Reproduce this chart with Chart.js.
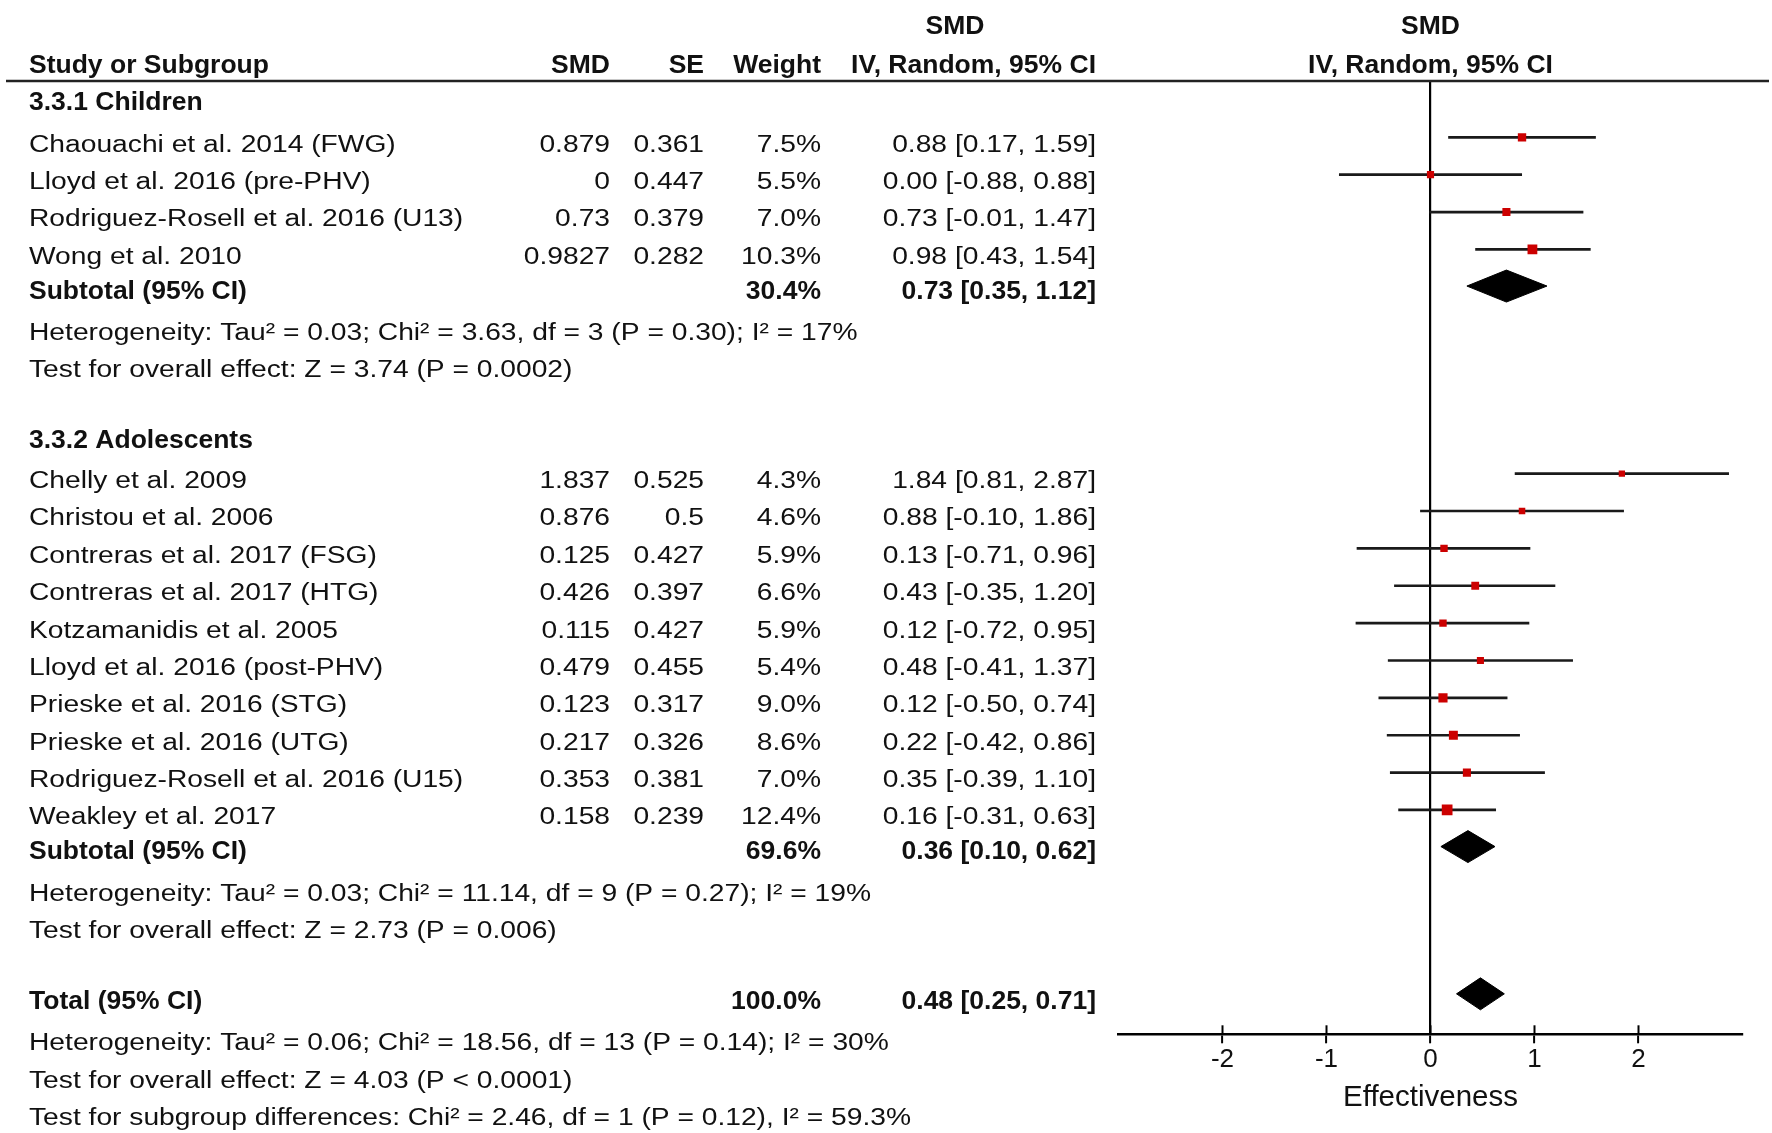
<!DOCTYPE html>
<html>
<head>
<meta charset="utf-8">
<script src="https://cdn.jsdelivr.net/npm/chart.js@4.4.1/dist/chart.umd.min.js"></script>
<style>
  html, body { margin: 0; padding: 0; background: #fff; overflow: hidden; }
  #wrap { position: relative; width: 1772px; height: 1133px; }
</style>
</head>
<body>
<div id="wrap"><canvas id="c"></canvas></div>
<script>
// ---------------- DATA ----------------
const studyNames = [
  'Chaouachi et al. 2014 (FWG)', 'Lloyd et al. 2016 (pre-PHV)', 'Rodriguez-Rosell et al. 2016 (U13)', 'Wong et al. 2010',
  'Chelly et al. 2009', 'Christou et al. 2006', 'Contreras et al. 2017 (FSG)', 'Contreras et al. 2017 (HTG)',
  'Kotzamanidis et al. 2005', 'Lloyd et al. 2016 (post-PHV)', 'Prieske et al. 2016 (STG)', 'Prieske et al. 2016 (UTG)',
  'Rodriguez-Rosell et al. 2016 (U15)', 'Weakley et al. 2017'
];
const smdValues = ['0.879', '0', '0.73', '0.9827', '1.837', '0.876', '0.125', '0.426', '0.115', '0.479', '0.123', '0.217', '0.353', '0.158'];
const seValues  = ['0.361', '0.447', '0.379', '0.282', '0.525', '0.5', '0.427', '0.397', '0.427', '0.455', '0.317', '0.326', '0.381', '0.239'];
const weights   = [7.5, 5.5, 7.0, 10.3, 4.3, 4.6, 5.9, 6.6, 5.9, 5.4, 9.0, 8.6, 7.0, 12.4];
const ciEst     = [0.88, 0.00, 0.73, 0.98, 1.84, 0.88, 0.13, 0.43, 0.12, 0.48, 0.12, 0.22, 0.35, 0.16];
const ciLow     = [0.17, -0.88, -0.01, 0.43, 0.81, -0.10, -0.71, -0.35, -0.72, -0.41, -0.50, -0.42, -0.39, -0.31];
const ciHigh    = [1.59, 0.88, 1.47, 1.54, 2.87, 1.86, 0.96, 1.20, 0.95, 1.37, 0.74, 0.86, 1.10, 0.63];
const studyRows = [0, 1, 2, 3, 9, 10, 11, 12, 13, 14, 15, 16, 17, 18];

const summaryLabels  = ['Subtotal (95% CI)', 'Subtotal (95% CI)', 'Total (95% CI)'];
const summaryWeights = ['30.4%', '69.6%', '100.0%'];
const summaryEst     = [0.73, 0.36, 0.48];
const summaryLow     = [0.35, 0.10, 0.25];
const summaryHigh    = [1.12, 0.62, 0.71];
const summaryRows    = [3.9, 18.9, 22.91];
const diamondRows    = [3.82, 18.82, 22.76];

const groupLabels = ['3.3.1 Children', '3.3.2 Adolescents'];
const groupRows   = [-1.14, 7.9];

const noteLines = [
  'Heterogeneity: Tau\u00B2 = 0.03; Chi\u00B2 = 3.63, df = 3 (P = 0.30); I\u00B2 = 17%',
  'Test for overall effect: Z = 3.74 (P = 0.0002)',
  'Heterogeneity: Tau\u00B2 = 0.03; Chi\u00B2 = 11.14, df = 9 (P = 0.27); I\u00B2 = 19%',
  'Test for overall effect: Z = 2.73 (P = 0.006)',
  'Heterogeneity: Tau\u00B2 = 0.06; Chi\u00B2 = 18.56, df = 13 (P = 0.14); I\u00B2 = 30%',
  'Test for overall effect: Z = 4.03 (P < 0.0001)',
  'Test for subgroup differences: Chi\u00B2 = 2.46, df = 1 (P = 0.12), I\u00B2 = 59.3%'
];
const noteRows = [5.03, 6.03, 20.05, 21.05, 24.03, 25.05, 26.05];

const tickValues = [-2, -1, 0, 1, 2];
const xMin = -3, xMax = 3;
const axisTitle = 'Effectiveness';
const headerRows = [-3.17, -2.14];
const rowMin = -1.667, rowMax = 23.843;

// ---------------- STYLE ----------------
const FONT = '"Liberation Sans", Arial, Helvetica, sans-serif';
const REG_SIZE = 23.5, REG_STRETCH = 1.2, BOLD_SIZE = 26.5;
const TXT = '#111111';
const RED = '#cc0000';
const LINE = '#1a1a1a';
const markShift = -0.16;      // marks sit slightly above the text centre
const diamondHalf = 0.428;    // diamond half-height in row units
const boxSide = w => 3.05 * Math.sqrt(w);

// ---------------- DATASETS ----------------
const ciDatasets = ciLow.map((lo, i) => ({
  type: 'line',
  data: [{ x: lo, y: studyRows[i] + markShift }, { x: ciHigh[i], y: studyRows[i] + markShift }],
  borderColor: LINE, borderWidth: 2.7, pointRadius: 0, fill: false, order: 2
}));

const boxDataset = {
  type: 'line',
  data: ciEst.map((e, i) => ({ x: e, y: studyRows[i] + markShift })),
  showLine: false,
  pointStyle: 'rect',
  pointRadius: ctx => boxSide(weights[ctx.dataIndex]) / Math.SQRT2,
  pointBackgroundColor: RED, pointBorderColor: RED, pointBorderWidth: 0,
  order: 0
};

const diamondDatasets = summaryEst.map((e, i) => ({
  type: 'line',
  data: [
    { x: summaryLow[i], y: diamondRows[i] },
    { x: e, y: diamondRows[i] - diamondHalf },
    { x: summaryHigh[i], y: diamondRows[i] },
    { x: e, y: diamondRows[i] + diamondHalf },
    { x: summaryLow[i], y: diamondRows[i] }
  ],
  borderColor: '#000', backgroundColor: '#000', borderWidth: 1,
  pointRadius: 0, fill: 'shape', tension: 0, order: 3
}));

// ---------------- TEXT PLUGIN ----------------
function drawText(ctx, str, x, y, align, bold) {
  const size = bold ? BOLD_SIZE : REG_SIZE;
  ctx.save();
  ctx.font = (bold ? 'bold ' : '') + size + 'px ' + FONT;
  ctx.fillStyle = TXT;
  ctx.textAlign = align;
  ctx.textBaseline = 'alphabetic';
  ctx.translate(x, y + size * 0.716 / 2);
  ctx.scale(bold ? 1 : REG_STRETCH, 1);
  ctx.fillText(str, 0, 0);
  ctx.restore();
}

const tablePlugin = {
  id: 'forestTable',
  afterDraw(chart) {
    const ctx = chart.ctx;
    const ys = chart.scales.y, xs = chart.scales.x;
    const Y = r => ys.getPixelForValue(r);
    const colName = 29, colSmd = 610, colSe = 704, colW = 821, colCi = 1096, colSmdHead = 955;
    const plotMid = (chart.chartArea.left + chart.chartArea.right) / 2;

    // header
    drawText(ctx, 'SMD', colSmdHead, Y(headerRows[0]), 'center', true);
    drawText(ctx, 'SMD', plotMid, Y(headerRows[0]), 'center', true);
    drawText(ctx, 'Study or Subgroup', colName, Y(headerRows[1]), 'left', true);
    drawText(ctx, 'SMD', colSmd, Y(headerRows[1]), 'right', true);
    drawText(ctx, 'SE', colSe, Y(headerRows[1]), 'right', true);
    drawText(ctx, 'Weight', colW, Y(headerRows[1]), 'right', true);
    drawText(ctx, 'IV, Random, 95% CI', colCi, Y(headerRows[1]), 'right', true);
    drawText(ctx, 'IV, Random, 95% CI', plotMid, Y(headerRows[1]), 'center', true);

    // header rule
    ctx.save();
    ctx.strokeStyle = '#222';
    ctx.lineWidth = 2.6;
    ctx.beginPath();
    ctx.moveTo(6, chart.chartArea.top);
    ctx.lineTo(1769, chart.chartArea.top);
    ctx.stroke();
    ctx.restore();

    groupLabels.forEach((g, i) => drawText(ctx, g, colName, Y(groupRows[i]), 'left', true));

    studyNames.forEach((n, i) => {
      const y = Y(studyRows[i]);
      drawText(ctx, n, colName, y, 'left', false);
      drawText(ctx, smdValues[i], colSmd, y, 'right', false);
      drawText(ctx, seValues[i], colSe, y, 'right', false);
      drawText(ctx, weights[i].toFixed(1) + '%', colW, y, 'right', false);
      drawText(ctx, ciEst[i].toFixed(2) + ' [' + ciLow[i].toFixed(2) + ', ' + ciHigh[i].toFixed(2) + ']', colCi, y, 'right', false);
    });

    summaryLabels.forEach((s, i) => {
      const y = Y(summaryRows[i]);
      drawText(ctx, s, colName, y, 'left', true);
      drawText(ctx, summaryWeights[i], colW, y, 'right', true);
      drawText(ctx, summaryEst[i].toFixed(2) + ' [' + summaryLow[i].toFixed(2) + ', ' + summaryHigh[i].toFixed(2) + ']', colCi, y, 'right', true);
    });

    noteLines.forEach((t, i) => drawText(ctx, t, colName, Y(noteRows[i]), 'left', false));

    // upper halves of the axis tick marks
    ctx.save();
    ctx.strokeStyle = '#000';
    ctx.lineWidth = 2;
    tickValues.forEach(v => {
      const px = xs.getPixelForValue(v);
      ctx.beginPath();
      ctx.moveTo(px, xs.top);
      ctx.lineTo(px, xs.top - 9);
      ctx.stroke();
    });
    ctx.restore();
  }
};

// ---------------- CHART ----------------
new Chart(document.getElementById('c'), {
  type: 'line',
  data: { datasets: [boxDataset, ...ciDatasets, ...diamondDatasets] },
  options: {
    responsive: true,
    maintainAspectRatio: false,
    animation: false,
    events: [],
    layout: { padding: { left: 1118.5, right: 29.5, top: 81, bottom: 0 } },
    plugins: { legend: { display: false }, tooltip: { enabled: false } },
    scales: {
      x: {
        type: 'linear',
        min: xMin, max: xMax,
        afterBuildTicks: s => { s.ticks = tickValues.map(v => ({ value: v })); },
        afterFit: s => { s.height = 98.7; },
        grid: {
          drawOnChartArea: true,
          color: c => (c.tick && c.tick.value === 0) ? '#000' : 'rgba(0,0,0,0)',
          lineWidth: 2.2,
          tickColor: '#000',
          tickWidth: 2,
          tickLength: 9
        },
        border: { display: true, color: '#000', width: 2.5 },
        ticks: {
          color: TXT,
          padding: 1,
          font: { family: FONT, size: 26, lineHeight: 1.2 },
          callback: v => String(v)
        },
        title: {
          display: true,
          text: axisTitle,
          color: TXT,
          font: { family: FONT, size: 29.5, lineHeight: 1.2 },
          padding: { top: 0, bottom: 17 }
        }
      },
      y: {
        type: 'linear',
        display: false,
        reverse: true,
        min: rowMin, max: rowMax
      }
    }
  },
  plugins: [tablePlugin]
});
</script>
</body>
</html>
